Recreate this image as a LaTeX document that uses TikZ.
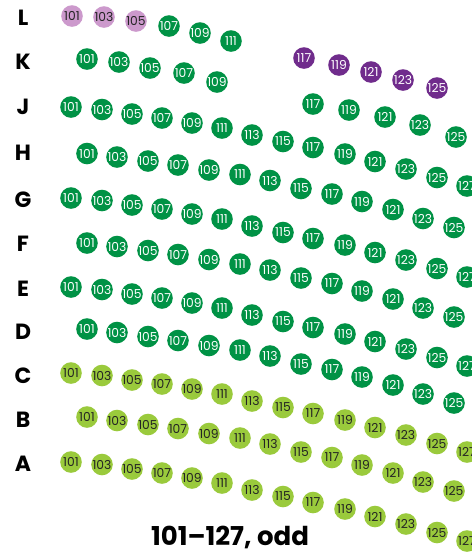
\documentclass[tikz,border=0pt]{standalone}
\usepackage{fontspec}
\setmainfont{Poppins}
\newfontfamily\seatfont{Poppins}
\definecolor{dkgreen}{RGB}{0,146,69}
\definecolor{ltgreen}{RGB}{154,202,60}
\definecolor{dkpurple}{RGB}{112,44,140}
\definecolor{lavender}{RGB}{204,153,204}
\definecolor{darktext}{RGB}{35,35,35}
\tikzset{
  seat/.style={circle,minimum size=21.6pt,inner sep=0pt,font=\seatfont\fontsize{12.3}{13}\selectfont},
  seatdg/.style={seat,fill=dkgreen,text=white},
  seatlg/.style={seat,fill=ltgreen,text=darktext},
  seatpu/.style={seat,fill=dkpurple,text=white},
  seatlv/.style={seat,fill=lavender,text=darktext},
  rowlabel/.style={font=\bfseries\fontsize{22}{24}\selectfont,text=black,inner sep=0pt},
  caption/.style={font=\bfseries\fontsize{26}{28}\selectfont,text=black,inner sep=0pt}
}
\newcommand\longseatrow[3]{%
  \foreach \n/\x/\d in {101/71/0,103/102/2.5,105/132/7,107/162/11,109/192/16,111/222/21,113/252/28,115/283/34.5,117/313/40.5,119/345/47,121/375/54.5,123/406/62,125/437/70.5,127/467/79}
    {\node[#3] (#1\n) at ({\x},{#2+\d}) {\n};}}
\newcommand\shortseatrow[3]{%
  \foreach \n/\x/\d in {101/87/0,103/117/3.5,105/148/7.5,107/178/11.5,109/209/16.5,111/240/21,113/270/27,115/301/35,117/332/40.5,119/362/48,121/393/56,123/423/65,125/454/74}
    {\node[#3] (#1\n) at ({\x},{#2+\d}) {\n};}}
\begin{document}
\begin{tikzpicture}[x=1pt,y=-1pt]
\useasboundingbox[fill=white] (0,0) rectangle (472,558);
% row labels
\foreach \r/\y in {L/18,K/62,J/107,H/153,G/200,F/244,E/289,D/332,C/376,B/420,A/464}
  {\node[rowlabel] (lab\r) at (23,\y) {\r};}
% row L
\foreach \n/\x/\y in {101/72/16,103/104/17,105/136/21}
  {\node[seatlv] (L\n) at (\x,\y) {\n};}
\foreach \n/\x/\y in {107/169/26,109/200/33,111/231/41}
  {\node[seatdg] (L\n) at (\x,\y) {\n};}
\foreach \n/\x/\y in {117/304/58,119/339/65,121/371/72,123/403/80,125/437/88}
  {\node[seatpu] (L\n) at (\x,\y) {\n};}
% row K
\foreach \n/\x/\y in {101/87/59,103/119/62,105/150/68,107/184/73,109/217/82,117/313/104,119/349/110,121/385/117,123/420/125,125/456/137}
  {\node[seatdg] (K\n) at (\x,\y) {\n};}
% rows J to A
\longseatrow{J}{107}{seatdg}
\shortseatrow{H}{153.5}{seatdg}
\longseatrow{G}{198}{seatdg}
\shortseatrow{F}{243}{seatdg}
\longseatrow{E}{287}{seatdg}
\shortseatrow{D}{329}{seatdg}
\longseatrow{C}{373}{seatlg}
\shortseatrow{B}{417}{seatlg}
\longseatrow{A}{462}{seatlg}
% caption
\node[caption] (title) at (230,537) {101–127, odd};
\end{tikzpicture}
\end{document}
